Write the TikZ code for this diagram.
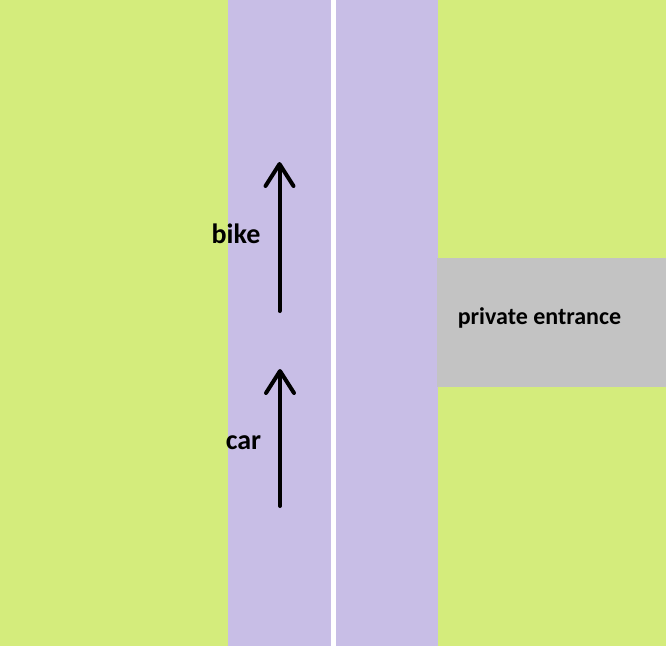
\documentclass[tikz,border=0pt]{standalone}
\usepackage{fontspec}
\setmainfont{Carlito}
\usetikzlibrary{arrows.meta}
\definecolor{grass}{RGB}{212,236,124}
\definecolor{lane}{RGB}{200,190,230}
\definecolor{drive}{RGB}{195,195,195}
\tikzset{label text/.style={inner sep=0pt, anchor=base, font=\bfseries\fontsize{28}{30}\selectfont},
  lane arrow/.style={line width=4pt, line cap=round, -{Straight Barb[length=22pt,width=28pt,round]}}}

\begin{document}
\begin{tikzpicture}[x=1pt,y=-1pt]
\useasboundingbox (0,0) rectangle (666,646);

\fill[grass] (0,0) rectangle (666,646);
\fill[lane] (228,0) rectangle (438,646);
\fill[white] (331,0) rectangle (335.5,646);
\fill[drive] (437,258) rectangle (666,387);

\node[label text] (bike) at (236,243) {bike};
\node[label text] (car) at (243.5,449) {car};
\node[label text, font=\bfseries\fontsize{24}{26}\selectfont] (entrance) at (539.5,324) {private entrance};

\coordinate (bike tail) at (279.5,311);
\coordinate (bike tip) at (279.5,162);
\coordinate (car tail) at (280,506);
\coordinate (car tip) at (280,369);

\draw[lane arrow] (bike tail) to (bike tip);
\draw[lane arrow] (car tail) to (car tip);
\end{tikzpicture}
\end{document}
